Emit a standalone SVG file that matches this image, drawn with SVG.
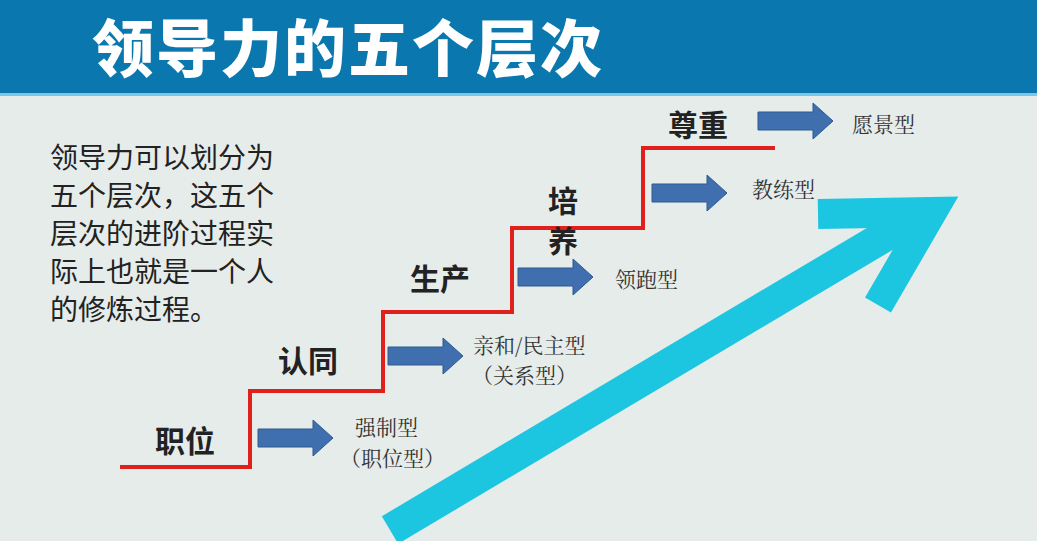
<svg xmlns="http://www.w3.org/2000/svg" width="1037" height="541" viewBox="0 0 1037 541">
<defs>
<style>
.t{font-family:"Noto Sans CJK SC",sans-serif;fill:#222}
.p{font-size:28px}
.b{font-size:30px;font-weight:bold}
.s{font-size:21px;fill:#333;font-family:"Noto Serif CJK SC","Noto Sans CJK SC",serif}
.ba{fill:#3f6fae;stroke:#2f5a90;stroke-width:1}
</style>
<path id="ar" d="M0,-9 H55 V-18 L75,0 L55,18 V9 H0 Z"/>
</defs>
<rect width="1037" height="541" fill="#e6ecea"/>
<rect width="1037" height="93" fill="#0a77ae"/>
<rect y="93" width="1037" height="3" fill="#7cc7e6"/>
<text x="92" y="72" font-family="Noto Sans CJK SC,sans-serif" font-weight="900" font-size="62" letter-spacing="2" fill="#fff">领导力的五个层次</text>
<g id="para" class="t p">
<text x="50" y="168">领导力可以划分为</text>
<text x="50" y="206">五个层次，这五个</text>
<text x="50" y="244">层次的进阶过程实</text>
<text x="50" y="282">际上也就是一个人</text>
<text x="50" y="320">的修炼过程。</text>
</g>
<g id="growth">
<polyline points="390,530 915,218" fill="none" stroke="#1cc6e0" stroke-width="32"/>
<polyline points="818,214 932,212 878,305" fill="none" stroke="#1cc6e0" stroke-width="30" stroke-linejoin="miter"/>
</g>
<g id="connectors">
<polyline points="120,467 250,467 250,391 383,391 383,312 512,312 512,228 643,228 643,148 775,148" fill="none" stroke="#e0201c" stroke-width="4"/>
<use href="#ar" x="258" y="438" class="ba"/>
<use href="#ar" x="388" y="356" class="ba"/>
<use href="#ar" x="518" y="277" class="ba"/>
<use href="#ar" x="652" y="193" class="ba"/>
<use href="#ar" x="758" y="121" class="ba"/>
</g>
<g id="n1"><text class="t b" x="155" y="452">职位</text><text class="s" x="355" y="435">强制型</text><text class="s" x="340" y="466">（职位型）</text></g>
<g id="n2"><text class="t b" x="278" y="372">认同</text><text class="s" x="473" y="353">亲和/民主型</text><text class="s" x="472" y="383">（关系型）</text></g>
<g id="n3"><text class="t b" x="410" y="290">生产</text><text class="s" x="615" y="287">领跑型</text></g>
<g id="n4"><text class="t b" x="548" y="212">培</text><text class="t b" x="548" y="252">养</text><text class="s" x="752" y="197">教练型</text></g>
<g id="n5"><text class="t b" x="668" y="136">尊重</text><text class="s" x="852" y="132">愿景型</text></g>
</svg>
